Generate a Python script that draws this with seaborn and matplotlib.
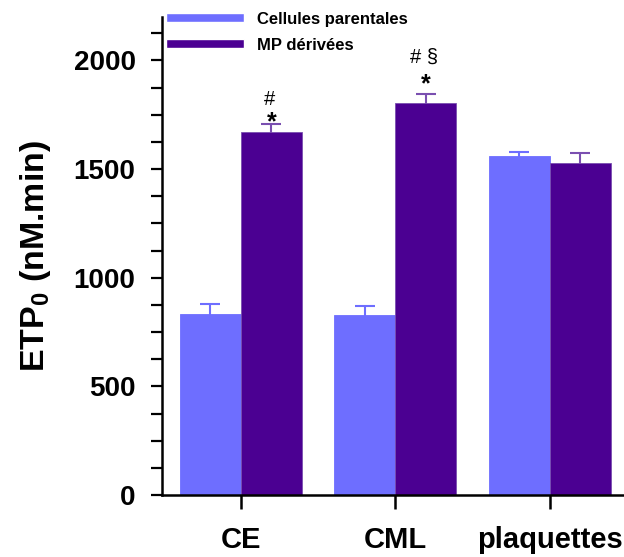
import pandas as pd
import numpy as np
import matplotlib.pyplot as plt
import seaborn as sns
from matplotlib.ticker import MultipleLocator

# Werte
kategorien = ['CE', 'CML', 'plaquettes']
gruppen = ['Cellules parentales', 'MP dérivées']
parentales = [835, 830, 1561]
parentales_err = [44, 41, 19]
mp = [1672, 1806, 1530]
mp_err = [35, 40, 45]
annotations = [('#', '*'), ('# §', '*'), ('', '')]
# Abstand (pt) der Zeichen ueber der Fehlerbalken-Kappe: (Stern, Raute)
anno_offset = [(-4, 13.5), (2, 22.5), (0, 0)]

farben = ['#6E6EFF', '#4B0092']
err_farben = ['#6E6EFF', '#7A4FB0']

df = pd.DataFrame({
    'cat': kategorien * 2,
    'groupe': [gruppen[0]] * 3 + [gruppen[1]] * 3,
    'val': parentales + mp,
})

sns.set_style('ticks')
plt.rcParams['font.family'] = ['Liberation Sans', 'DejaVu Sans']
plt.rcParams['text.color'] = 'black'
plt.rcParams['axes.labelcolor'] = 'black'
plt.rcParams['xtick.color'] = 'black'
plt.rcParams['ytick.color'] = 'black'
plt.rcParams['axes.edgecolor'] = 'black'
plt.rcParams['mathtext.fontset'] = 'custom'
plt.rcParams['mathtext.bf'] = 'Liberation Sans:bold'
plt.rcParams['mathtext.rm'] = 'Liberation Sans:bold'

fig = plt.figure(figsize=(6.24, 5.57), dpi=100)
ax = fig.add_axes([162 / 624, 62 / 557, 1 - 162 / 624, (495 - 17) / 557])

sns.barplot(data=df, x='cat', y='val', hue='groupe', palette=farben,
            errorbar=None, width=0.79, ax=ax, legend=True, saturation=1)

# Fehlerbalken (untere Haelfte liegt hinter den Balken)
for cont, werte, fehler, ec in zip(ax.containers, [parentales, mp],
                                   [parentales_err, mp_err], err_farben):
    xs = [p.get_x() + p.get_width() / 2 for p in cont.patches]
    ax.errorbar(xs, werte, yerr=fehler, fmt='none', zorder=0.5,
                ecolor=ec, elinewidth=1.5, capsize=7, capthick=1.5)
    for p in cont.patches:
        p.set_edgecolor(ec)
        p.set_linewidth(0.6)
        p.set_zorder(1)

# Signifikanz-Zeichen ueber MP-Balken
for p, w, e, (oben, stern), (o_st, o_ra) in zip(ax.containers[1].patches, mp, mp_err,
                                               annotations, anno_offset):
    x = p.get_x() + p.get_width() / 2
    if stern:
        ax.annotate(stern, (x, w + e), xytext=(0, o_st), textcoords='offset points',
                    ha='center', va='baseline', fontsize=18, fontweight='bold')
        ax.annotate(oben, (x, w + e), xytext=(-1, o_ra), textcoords='offset points',
                    ha='center', va='baseline', fontsize=14.5)

ax.set_ylim(0, 2200)
ax.set_xlim(-0.51, 2.48)
ax.yaxis.set_major_locator(MultipleLocator(500))
ax.yaxis.set_minor_locator(MultipleLocator(125))
ax.tick_params(axis='y', which='both', length=8, width=1.6, labelsize=20, pad=11)
ax.tick_params(axis='x', length=10, width=1.8, labelsize=21, pad=12)
for lab in ax.get_xticklabels() + ax.get_yticklabels():
    lab.set_fontweight('bold')

ax.set_xlabel('')
ax.set_ylabel(r'ETP$_\mathbf{0}$ (nM.min)', fontsize=24.5, fontweight='bold', labelpad=15)

sns.despine(ax=ax)
ax.spines['left'].set_linewidth(1.8)
ax.spines['bottom'].set_linewidth(1.8)

leg = ax.legend(loc='upper left', bbox_to_anchor=(-0.006, 1.025), frameon=False,
                prop={'weight': 'bold', 'size': 12}, handlelength=4.7,
                handleheight=0.45, borderaxespad=0, labelspacing=0.67,
                handletextpad=0.78)

plt.savefig('out.png', dpi=100)
